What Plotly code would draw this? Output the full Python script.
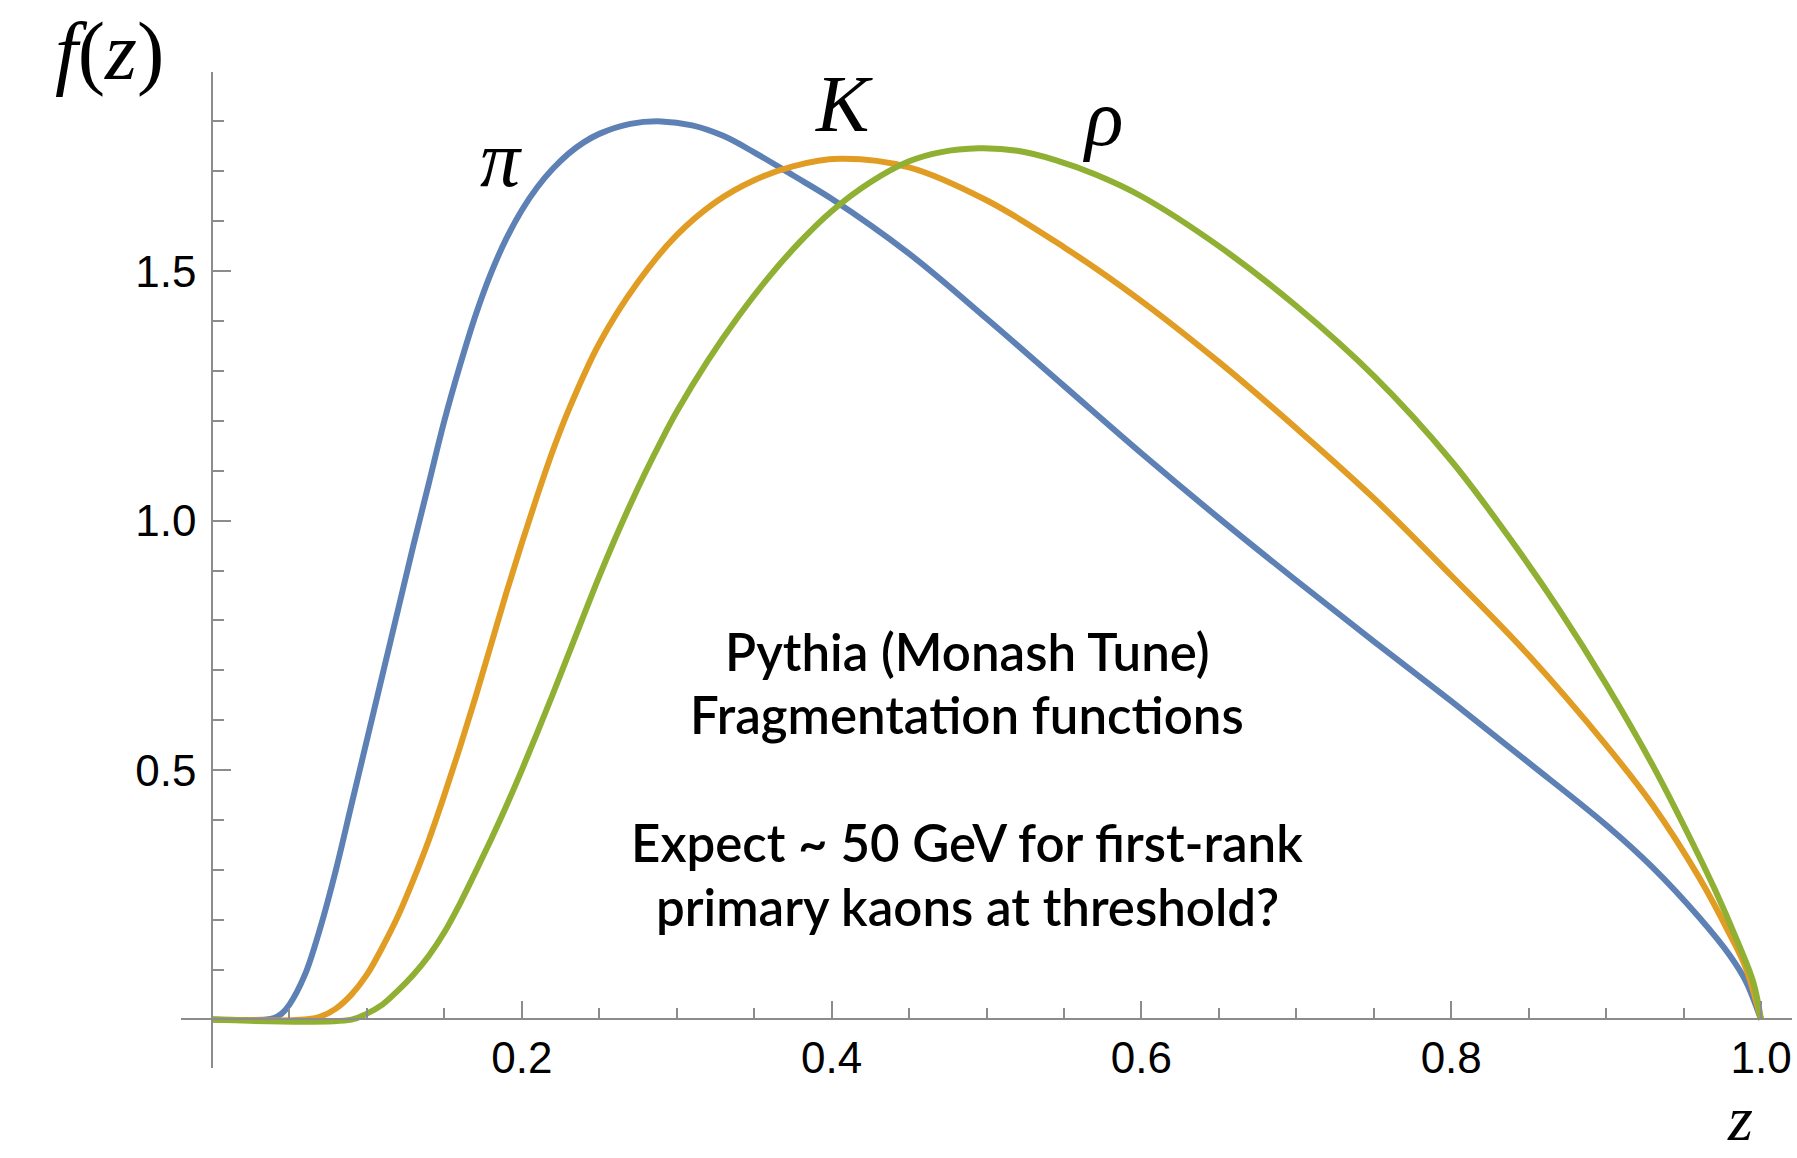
import plotly.graph_objects as go

# ---- data ----
z_pi = [0.0, 0.035, 0.04, 0.045, 0.05, 0.06, 0.07, 0.08, 0.09, 0.1,
        0.11, 0.12, 0.13, 0.14, 0.15, 0.16, 0.17, 0.18, 0.19, 0.2,
        0.21, 0.22, 0.23, 0.24, 0.25, 0.27, 0.29, 0.31, 0.33, 0.35,
        0.375, 0.4, 0.45, 0.5, 0.55, 0.6, 0.65, 0.7, 0.75, 0.8,
        0.85, 0.9, 0.93, 0.96, 0.98, 0.99, 1.0]
f_pi = [0.0, 0.0, 0.003, 0.012, 0.03, 0.09, 0.185, 0.30, 0.43, 0.56,
        0.69, 0.82, 0.95, 1.075, 1.20, 1.31, 1.41, 1.495, 1.565, 1.622,
        1.668, 1.705, 1.735, 1.758, 1.775, 1.795, 1.80, 1.792, 1.771, 1.738,
        1.692, 1.645, 1.535, 1.405, 1.27, 1.135, 1.005, 0.88, 0.758, 0.638,
        0.515, 0.39, 0.305, 0.205, 0.128, 0.078, 0.0]

z_k = [0.0, 0.06, 0.07, 0.08, 0.09, 0.1, 0.11, 0.12, 0.13, 0.14,
       0.15, 0.16, 0.17, 0.18, 0.19, 0.2, 0.21, 0.22, 0.23, 0.25,
       0.275, 0.3, 0.325, 0.35, 0.375, 0.405, 0.45, 0.5, 0.55, 0.6,
       0.65, 0.7, 0.75, 0.8, 0.85, 0.9, 0.93, 0.96, 0.98, 0.99, 1.0]
f_k = [0.0, 0.0, 0.006, 0.022, 0.05, 0.09, 0.145, 0.207, 0.28, 0.36,
       0.45, 0.545, 0.645, 0.75, 0.855, 0.955, 1.05, 1.14, 1.22, 1.355,
       1.478, 1.572, 1.638, 1.682, 1.71, 1.725, 1.708, 1.642, 1.548, 1.44,
       1.318, 1.185, 1.045, 0.89, 0.73, 0.55, 0.43, 0.285, 0.17, 0.105, 0.0]

z_rho = [0.0, 0.09, 0.1, 0.11, 0.12, 0.13, 0.14, 0.15, 0.16, 0.17,
         0.18, 0.19, 0.2, 0.21, 0.22, 0.23, 0.24, 0.25, 0.26, 0.27,
         0.28, 0.29, 0.3, 0.32, 0.34, 0.36, 0.38, 0.4, 0.425, 0.45,
         0.47, 0.495, 0.52, 0.545, 0.57, 0.6, 0.65, 0.7, 0.75, 0.8,
         0.84, 0.87, 0.9, 0.93, 0.95, 0.97, 0.985, 0.995, 1.0]
f_rho = [0.0, 0.0, 0.012, 0.03, 0.058, 0.09, 0.128, 0.175, 0.232, 0.295,
         0.36, 0.428, 0.50, 0.575, 0.652, 0.731, 0.81, 0.888, 0.962, 1.032,
         1.098, 1.16, 1.218, 1.32, 1.41, 1.49, 1.56, 1.62, 1.678, 1.72,
         1.738, 1.746, 1.741, 1.722, 1.694, 1.65, 1.55, 1.43, 1.29, 1.12,
         0.955, 0.82, 0.672, 0.51, 0.39, 0.262, 0.155, 0.075, 0.0]

x_major = [0.2, 0.4, 0.6, 0.8, 1.0]
x_major_text = ["0.2", "0.4", "0.6", "0.8", "1.0"]
x_minor = [0.05, 0.1, 0.15, 0.25, 0.3, 0.35, 0.45, 0.5, 0.55, 0.65, 0.7, 0.75, 0.85, 0.9, 0.95]
y_major = [0.5, 1.0, 1.5]
y_major_text = ["0.5", "1.0", "1.5"]
y_minor = [0.1, 0.2, 0.3, 0.4, 0.6, 0.7, 0.8, 0.9, 1.1, 1.2, 1.3, 1.4, 1.6, 1.7, 1.8]

curve_labels = ["π", "K", "ρ"]
note_lines = ["Pythia (Monash Tune)", "Fragmentation functions",
              "Expect ~ 50 GeV for first-rank", "primary kaons at threshold?"]

# ---- figure ----
BLUE, ORANGE, GREEN = "#5E81B5", "#E19C24", "#8FB032"
AXIS = "#8c8c8c"

fig = go.Figure()
for zs, fs, col, name in [(z_pi, f_pi, BLUE, "π"), (z_k, f_k, ORANGE, "K"), (z_rho, f_rho, GREEN, "ρ")]:
    fig.add_trace(go.Scatter(x=zs, y=fs, mode="lines", name=name,
                             line=dict(color=col, width=6, shape="spline", smoothing=1.0),
                             hoverinfo="skip"))

serif = "Liberation Serif"
label_pos = [(0.1866, 1.725), (0.4077, 1.834), (0.5748, 1.807)]
for txt, (lx, ly) in zip(curve_labels, label_pos):
    fig.add_annotation(x=lx, y=ly, xref="x", yref="y", text="<i>%s</i>" % txt,
                       showarrow=False, font=dict(family=serif, size=80, color="black"),
                       xanchor="center", yanchor="middle")

fig.add_annotation(x=-0.0445, y=1.021, xref="paper", yref="paper",
                   text="<i>f</i>(<i>z</i>)", showarrow=False,
                   font=dict(family=serif, size=82, color="black"),
                   xanchor="center", yanchor="middle")
fig.add_annotation(x=0.968, y=-0.0885, xref="paper", yref="paper",
                   text="<i>z</i>", showarrow=False,
                   font=dict(family=serif, size=64, color="black"),
                   xanchor="center", yanchor="bottom")

note_y = [0.738, 0.612, 0.354, 0.227]
for line, ny in zip(note_lines, note_y):
    fig.add_annotation(x=0.4876, y=ny, xref="x", yref="y", text=line,
                       showarrow=False, align="center",
                       font=dict(family="Lato", size=51, color="black", weight=600),
                       xanchor="center", yanchor="middle")

tickfont = dict(family="Liberation Sans", size=44, color="black")
fig.update_layout(
    width=1797, height=1158,
    margin=dict(l=181, r=5, t=72, b=90),
    paper_bgcolor="white", plot_bgcolor="white",
    showlegend=False,
    xaxis=dict(range=[-0.02, 1.02], anchor="free", position=0.0487,
               showline=True, linecolor=AXIS, linewidth=1.5,
               ticks="inside", ticklen=18, tickwidth=1.5, tickcolor=AXIS,
               tickmode="array", tickvals=x_major, ticktext=x_major_text,
               tickfont=tickfont, ticklabelstandoff=0,
               showgrid=False, zeroline=False,
               minor=dict(tickmode="array", tickvals=x_minor, ticks="inside",
                          ticklen=11, tickwidth=1.5, tickcolor=AXIS, showgrid=False)),
    yaxis=dict(range=[-0.097, 1.899], anchor="free", position=0.01924,
               showline=True, linecolor=AXIS, linewidth=1.5,
               ticks="inside", ticklen=18, tickwidth=1.5, tickcolor=AXIS,
               tickmode="array", tickvals=y_major, ticktext=y_major_text,
               tickfont=tickfont, ticklabelstandoff=6,
               showgrid=False, zeroline=False,
               minor=dict(tickmode="array", tickvals=y_minor, ticks="inside",
                          ticklen=11, tickwidth=1.5, tickcolor=AXIS, showgrid=False)),
)

fig.write_html("out.html")
